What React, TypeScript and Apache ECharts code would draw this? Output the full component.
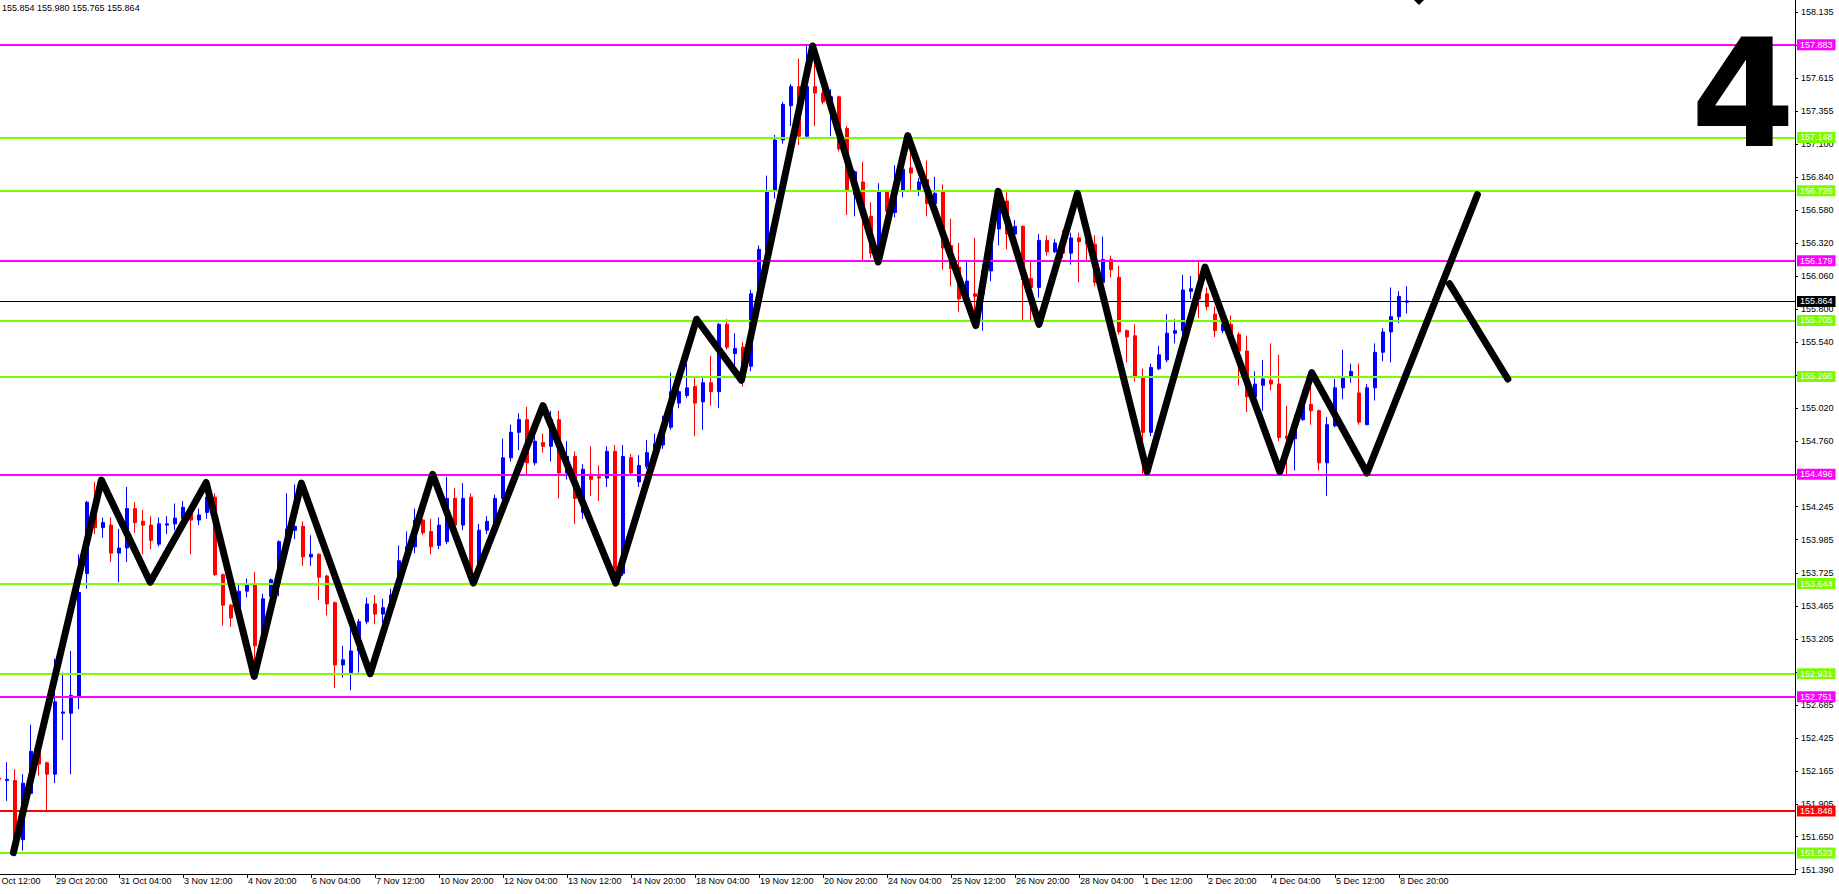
import React, { useEffect, useRef } from 'react';
import * as echarts from 'echarts';

const FONT = '"Liberation Sans", Arial, sans-serif';

// H4 candles, index 0 = 28 Oct 16:00
const opens = [
  152.11, 152.09, 152.09, 151.625, 151.99, 152.34, 152.23, 152.14, 152.62, 152.62,
  152.75, 153.72, 154.28, 154.08, 154.10, 153.88, 153.92, 154.23, 154.13, 154.10,
  153.95, 154.10, 154.11, 154.15, 154.21, 154.14, 154.20, 154.32, 153.71, 153.47,
  153.36, 153.58, 153.63, 153.15, 153.54, 153.64, 153.97, 154.06, 154.09, 153.85,
  153.87, 153.70, 153.49, 153.00, 152.94, 153.11, 153.34, 153.48, 153.40, 153.45,
  153.64, 153.82, 153.93, 154.14, 154.05, 153.94, 153.97, 154.31, 154.10, 154.32,
  153.79, 154.06, 154.11, 154.31, 154.63, 154.83, 154.93, 154.59, 154.75, 154.72,
  154.93, 154.51, 154.64, 154.20, 154.50, 154.48, 154.47, 154.68, 153.72, 154.63,
  154.44, 154.56, 154.63, 154.73, 154.87, 155.06, 155.12, 155.19, 155.07, 155.22,
  155.15, 155.68, 155.45, 155.50, 155.35, 155.90, 156.26, 156.73, 157.13, 157.40,
  157.55, 157.16, 157.55, 157.50, 157.43, 157.47, 157.22, 156.70, 156.80, 156.53,
  156.25, 156.72, 156.56, 156.73, 156.91, 156.74, 156.82, 156.63, 156.72, 156.30,
  156.13, 155.88, 155.92, 155.92, 156.10, 156.43, 156.65, 156.39, 156.45, 156.04,
  155.97, 156.34, 156.25, 156.32, 156.24, 156.36, 156.34, 156.31, 156.01, 156.19,
  156.05, 155.63, 155.59, 155.27, 154.83, 155.33, 155.40, 155.61, 155.63, 155.94,
  156.00, 155.92, 155.76, 155.63, 155.68, 155.60, 155.47, 155.11, 155.20, 155.24,
  155.21, 154.80, 154.78, 154.93, 155.05, 155.00, 154.59, 154.88, 155.18, 155.27,
  155.14, 154.89, 155.18, 155.46, 155.62, 155.74, 155.854,
];
const closes = [
  152.10, 152.10, 151.55, 152.07, 152.32, 152.22, 152.14, 152.71, 152.63, 152.76,
  153.57, 154.28, 154.08, 154.12, 153.88, 153.92, 154.23, 154.12, 154.10, 153.98,
  154.11, 154.11, 154.155, 154.24, 154.14, 154.18, 154.32, 153.71, 153.47, 153.37,
  153.58, 153.63, 153.15, 153.52, 153.67, 153.97, 154.07, 154.09, 153.85, 153.87,
  153.69, 153.48, 153.00, 153.04, 153.11, 153.34, 153.48, 153.40, 153.45, 153.55,
  153.82, 153.93, 154.14, 154.04, 153.93, 154.10, 154.31, 154.10, 154.31, 153.74,
  154.06, 154.13, 154.31, 154.63, 154.83, 154.93, 154.59, 154.76, 154.72, 154.93,
  154.51, 154.64, 154.31, 154.54, 154.46, 154.47, 154.68, 153.72, 154.64, 154.51,
  154.57, 154.67, 154.74, 154.87, 155.15, 155.15, 155.18, 155.06, 155.22, 155.15,
  155.68, 155.50, 155.49, 155.35, 155.92, 156.27, 156.73, 157.13, 157.41, 157.55,
  157.16, 157.55, 157.50, 157.43, 157.47, 157.06, 156.74, 156.88, 156.55, 156.24,
  156.72, 156.57, 156.72, 156.90, 156.87, 156.80, 156.63, 156.71, 156.28, 156.12,
  155.88, 156.02, 155.90, 156.10, 156.30, 156.65, 156.39, 156.45, 156.03, 155.97,
  156.34, 156.25, 156.32, 156.24, 156.36, 156.33, 156.31, 156.01, 156.19, 156.11,
  155.62, 155.58, 155.27, 154.83, 155.34, 155.44, 155.61, 155.63, 155.95, 155.96,
  155.88, 155.82, 155.63, 155.68, 155.60, 155.47, 155.11, 155.21, 155.25, 155.21,
  154.79, 154.78, 154.92, 155.10, 155.00, 154.59, 154.89, 155.18, 155.27, 155.31,
  154.91, 155.18, 155.46, 155.62, 155.74, 155.90, 155.864,
];
const lows = [
  152.09, 151.93, 151.523, 151.54, 151.98, 152.13, 151.85, 152.07, 152.41, 152.14,
  152.65, 153.60, 154.03, 154.00, 153.81, 153.65, 153.81, 154.04, 153.87, 153.91,
  153.93, 154.03, 154.06, 154.12, 153.87, 154.10, 154.15, 153.70, 153.31, 153.30,
  153.33, 153.53, 152.95, 153.07, 153.50, 153.54, 153.94, 153.99, 153.78, 153.78,
  153.51, 153.39, 152.82, 152.90, 152.80, 152.94, 153.32, 153.32, 153.33, 153.40,
  153.60, 153.80, 153.88, 154.02, 153.87, 153.91, 153.95, 154.08, 154.06, 153.65,
  153.74, 154.03, 154.09, 154.29, 154.60, 154.69, 154.50, 154.57, 154.67, 154.60,
  154.31, 154.46, 154.11, 154.15, 154.33, 154.29, 154.40, 153.64, 153.70, 154.49,
  154.40, 154.54, 154.60, 154.70, 154.85, 155.02, 155.10, 154.80, 154.85, 155.04,
  155.02, 155.48, 155.35, 155.19, 155.31, 155.85, 156.20, 156.67, 157.10, 157.24,
  157.09, 157.15, 157.24, 157.41, 157.16, 157.04, 156.54, 156.53, 156.18, 156.20,
  156.18, 156.55, 156.52, 156.68, 156.73, 156.69, 156.53, 156.60, 156.11, 155.98,
  155.78, 155.85, 155.68, 155.63, 156.02, 156.30, 156.27, 156.35, 155.71, 155.70,
  155.89, 156.22, 156.24, 156.20, 156.15, 156.01, 156.18, 155.98, 155.99, 156.05,
  155.60, 155.38, 155.23, 154.50, 154.80, 155.32, 155.38, 155.53, 155.60, 155.88,
  155.73, 155.79, 155.58, 155.61, 155.58, 155.20, 154.99, 155.08, 155.00, 155.16,
  154.76, 154.50, 154.53, 154.92, 154.89, 154.53, 154.33, 154.87, 155.09, 155.22,
  154.89, 154.89, 155.08, 155.39, 155.38, 155.69, 155.765,
];
const highs = [
  152.12, 152.235, 152.18, 152.14, 152.53, 152.35, 152.24, 153.05, 152.94, 153.11,
  153.87, 154.29, 154.44, 154.16, 154.16, 154.07, 154.40, 154.28, 154.22, 154.17,
  154.16, 154.17, 154.27, 154.29, 154.22, 154.23, 154.46, 154.35, 153.72, 153.48,
  153.64, 153.68, 153.73, 153.56, 153.68, 153.98, 154.35, 154.42, 154.13, 154.02,
  153.88, 153.71, 153.50, 153.15, 153.30, 153.36, 153.53, 153.55, 153.52, 153.60,
  153.94, 154.05, 154.23, 154.15, 154.15, 154.16, 154.48, 154.39, 154.43, 154.35,
  154.11, 154.17, 154.34, 154.78, 154.89, 154.98, 155.03, 154.82, 154.82, 155.00,
  155.00, 154.76, 154.68, 154.58, 154.72, 154.57, 154.72, 154.73, 154.73, 154.66,
  154.65, 154.77, 154.82, 154.96, 155.30, 155.30, 155.37, 155.27, 155.26, 155.43,
  155.69, 155.72, 155.61, 155.54, 155.95, 156.30, 156.85, 157.17, 157.43, 157.57,
  157.77, 157.87, 157.883, 157.69, 157.53, 157.48, 157.24, 156.89, 156.96, 156.64,
  156.79, 156.73, 156.93, 156.91, 157.12, 156.83, 156.97, 156.84, 156.78, 156.51,
  156.32, 156.17, 156.36, 156.15, 156.32, 156.73, 156.72, 156.50, 156.46, 156.17,
  156.39, 156.38, 156.35, 156.42, 156.40, 156.40, 156.36, 156.38, 156.37, 156.22,
  156.14, 155.64, 155.68, 155.33, 155.37, 155.51, 155.76, 155.72, 156.07, 156.06,
  156.17, 155.97, 155.82, 155.72, 155.75, 155.62, 155.59, 155.31, 155.40, 155.53,
  155.44, 155.04, 154.97, 155.16, 155.25, 155.01, 154.95, 155.25, 155.48, 155.37,
  155.37, 155.21, 155.53, 155.65, 155.97, 155.94, 155.98,
];

// time axis labels (bar index -> text)
const xTickIdx = [7, 15, 23, 31, 39, 47, 55, 63, 71, 79, 87, 95, 103, 111, 119, 127, 135, 143, 151, 159, 167, 175];
const xTickText = [
  '29 Oct 20:00', '31 Oct 04:00', '3 Nov 12:00', '4 Nov 20:00', '6 Nov 04:00', '7 Nov 12:00',
  '10 Nov 20:00', '12 Nov 04:00', '13 Nov 12:00', '14 Nov 20:00', '18 Nov 04:00', '19 Nov 12:00',
  '20 Nov 20:00', '24 Nov 04:00', '25 Nov 12:00', '26 Nov 20:00', '28 Nov 04:00', '1 Dec 12:00',
  '2 Dec 20:00', '4 Dec 04:00', '5 Dec 12:00', '8 Dec 20:00',
];
const firstTickIdx = -1;
const firstTickText = '28 Oct 12:00';

// price scale labels
const yTicks = [
  158.135, 157.875, 157.615, 157.355, 157.1, 156.84, 156.58, 156.32, 156.06, 155.8,
  155.54, 155.28, 155.02, 154.76, 154.5, 154.245, 153.985, 153.725, 153.465, 153.205,
  152.945, 152.685, 152.425, 152.165, 151.905, 151.65, 151.39,
];

// horizontal levels
const levelPrices = [157.883, 157.148, 156.726, 156.179, 155.705, 155.266, 154.496, 153.644, 152.931, 152.751, 151.848, 151.523];
const levelColors = ['#FF00FF', '#7CFC00', '#7CFC00', '#FF00FF', '#7CFC00', '#7CFC00', '#FF00FF', '#7CFC00', '#7CFC00', '#FF00FF', '#FF0000', '#7CFC00'];
const currentPrice = 155.864;
const headerText = '155.854 155.980 155.765 155.864';
const bigLabel = '4';

// zigzag (bar index, price)
const zigX = [1.8, 12.8, 18.9, 25.9, 31.9, 37.8, 46.4, 54.2, 59.3, 68.0, 77.1, 87.2, 92.8, 101.7, 109.9, 113.6, 122.1, 124.9, 130.0, 134.8, 143.5, 150.75, 160.1, 164.1, 171.0, 184.8];
const zigY = [151.523, 154.454, 153.65, 154.435, 152.91, 154.43, 152.93, 154.5, 153.644, 155.04, 153.644, 155.72, 155.24, 157.87, 156.17, 157.165, 155.67, 156.726, 155.68, 156.71, 154.52, 156.13, 154.52, 155.3, 154.51, 156.7];
const branchX = [181.3, 188.6];
const branchY = [156.0, 155.25];

const X_MIN = 0.125;
const X_MAX = 224.5;
const Y_MIN = 151.355;
const Y_MAX = 158.2316;

export default function App() {
  const ref = useRef<HTMLDivElement>(null);
  useEffect(() => {
    const chart = echarts.init(ref.current!, null, { renderer: 'svg' });
    const candles = opens.map((o, i) => [i, o, closes[i], lows[i], highs[i]]);
    const zig = zigX.map((x, i) => [x, zigY[i]]);
    const branch = branchX.map((x, i) => [x, branchY[i]]);
    const levelItems: any[] = levelPrices.map((p, i) => ({
      yAxis: p,
      lineStyle: { color: levelColors[i], width: 2, type: 'solid' },
      label: {
        show: true, position: 'end', distance: 2, formatter: p.toFixed(3),
        backgroundColor: levelColors[i], color: '#fff', padding: [1, 3, 0, 3],
        fontSize: 9, fontFamily: FONT, lineHeight: 10,
      },
    }));
    levelItems.push({
      yAxis: currentPrice,
      lineStyle: { color: '#000', width: 1, type: 'solid' },
      label: {
        show: true, position: 'end', distance: 2, formatter: currentPrice.toFixed(3),
        backgroundColor: '#000', color: '#fff', padding: [1, 3, 0, 3],
        fontSize: 9, fontFamily: FONT, lineHeight: 10,
      },
    });
    const option: any = {
      animation: false,
      backgroundColor: '#fff',
      grid: { left: 0, right: 44, top: 0, bottom: 20, containLabel: false, outerBoundsMode: 'none' },
      xAxis: {
        type: 'value', min: X_MIN, max: X_MAX,
        axisLine: { show: true, onZero: false, lineStyle: { color: '#000', width: 1 } },
        axisTick: { show: true, customValues: xTickIdx, length: 4, lineStyle: { color: '#000' } },
        axisLabel: {
          show: true, customValues: xTickIdx, align: 'left', margin: 2, padding: [0, 0, 0, 1],
          fontSize: 9, fontFamily: FONT, color: '#000',
          formatter: (v: number) => { const k = xTickIdx.indexOf(Math.round(v)); return k >= 0 ? xTickText[k] : ''; },
        },
        splitLine: { show: false },
      },
      yAxis: {
        type: 'value', position: 'right', min: Y_MIN, max: Y_MAX,
        axisLine: { show: true, onZero: false, lineStyle: { color: '#000', width: 1 } },
        axisTick: { show: true, customValues: yTicks, length: 3, lineStyle: { color: '#000' } },
        axisLabel: {
          show: true, customValues: yTicks, margin: 6, fontSize: 9, fontFamily: FONT, color: '#000',
          formatter: (v: number) => v.toFixed(3),
        },
        splitLine: { show: false },
      },
      series: [
        {
          type: 'candlestick', data: candles, barWidth: 4, z: 2,
          itemStyle: { color: '#0000FF', color0: '#FF0000', borderColor: '#0000FF', borderColor0: '#FF0000', borderWidth: 1 },
          markLine: { silent: true, symbol: ['none', 'none'], z: 5, animation: false, data: levelItems },
        },
        {
          type: 'line', data: zig, symbol: 'none', z: 10, silent: true,
          lineStyle: { color: '#000', width: 7, cap: 'round', join: 'round' },
        },
        {
          type: 'line', data: branch, symbol: 'none', z: 10, silent: true,
          lineStyle: { color: '#000', width: 7, cap: 'round', join: 'round' },
        },
      ],
    };
    chart.setOption(option);
    const x0 = chart.convertToPixel({ xAxisIndex: 0 }, firstTickIdx) as number;
    chart.setOption({
      graphic: [
        { type: 'text', x: x0 - 2, y: 876, style: { text: firstTickText, font: `9px ${FONT}`, fill: '#000', textAlign: 'left', textVerticalAlign: 'top' } },
        { type: 'text', x: 2, y: 3, style: { text: headerText, font: `9px ${FONT}`, fill: '#000', textAlign: 'left', textVerticalAlign: 'top' } },
        { type: 'text', x: 1795, y: 19, z: 20, style: { text: bigLabel, font: `bold 150px "DejaVu Sans"`, fill: '#000', textAlign: 'right', textVerticalAlign: 'top' } },
        { type: 'polygon', shape: { points: [[1414, 0], [1424, 0], [1419, 5]] }, style: { fill: '#000' } },
      ],
    });
    return () => chart.dispose();
  }, []);
  return <div ref={ref} style={{ position: 'fixed', left: 0, top: 0, width: 1839, height: 894, background: '#fff' }} />;
}
